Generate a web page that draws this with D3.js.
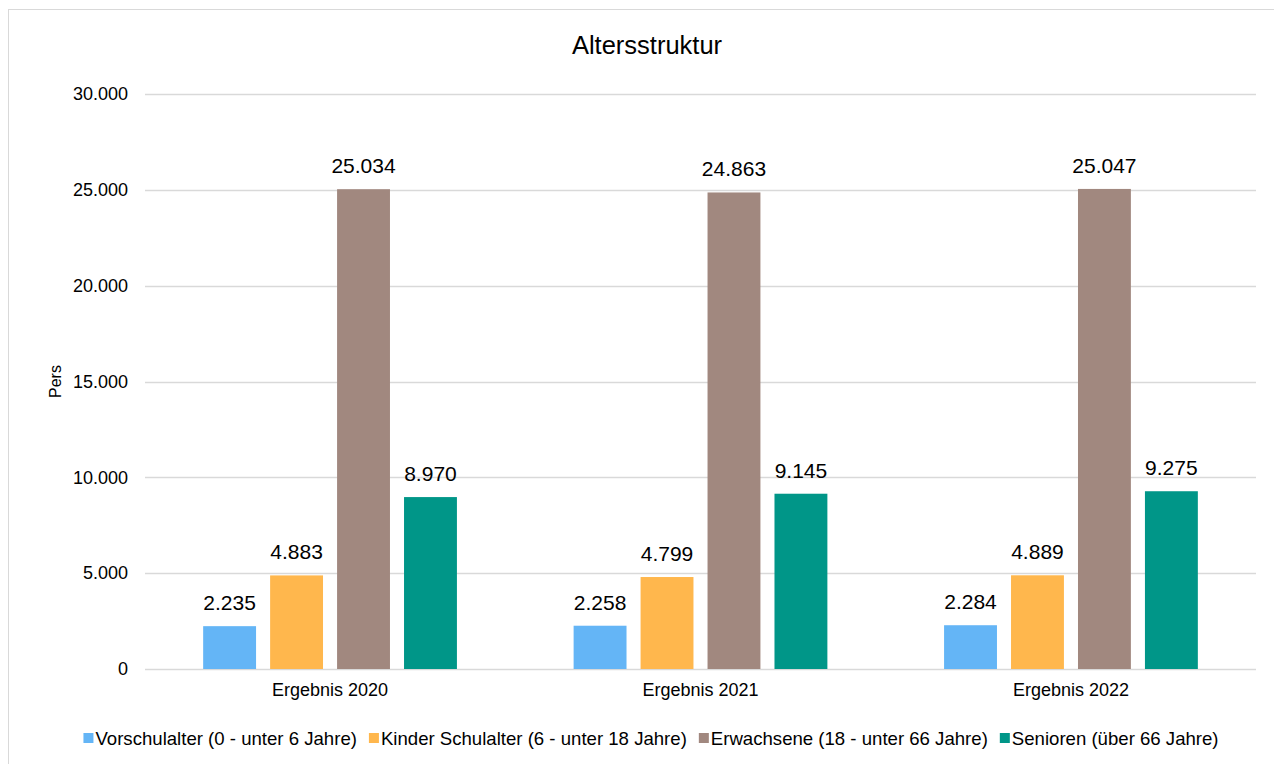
<!DOCTYPE html>
<html>
<head>
<meta charset="utf-8">
<script src="https://cdn.jsdelivr.net/npm/d3@7"></script>
<style>
  body { margin: 0; background: #fff; }
  svg { font-family: "Liberation Sans", Arial, sans-serif; }
</style>
</head>
<body>
<svg id="chart" width="1274" height="764"></svg>
<script>
const categories = ["Ergebnis 2020", "Ergebnis 2021", "Ergebnis 2022"];
const seriesNames = [
  "Vorschulalter (0 - unter 6 Jahre)",
  "Kinder Schulalter (6 - unter 18 Jahre)",
  "Erwachsene (18 - unter 66 Jahre)",
  "Senioren (über 66 Jahre)"
];
const vorschul = [2235, 2258, 2284];
const kinder = [4883, 4799, 4889];
const erwachsene = [25034, 24863, 25047];
const senioren = [8970, 9145, 9275];
const colors = ["#64b5f6", "#ffb74d", "#a1887f", "#009688"];
const yTicks = [0, 5000, 10000, 15000, 20000, 25000, 30000];

const allSeries = [vorschul, kinder, erwachsene, senioren];

const svg = d3.select("#chart");
const margin = { left: 145, right: 18, top: 94, bottom: 95 };
const W = 1274, H = 764;

// outer frame
svg.append("rect")
  .attr("x", 8.5).attr("y", 9.5)
  .attr("width", W).attr("height", H)
  .attr("fill", "none").attr("stroke", "#d9d9d9").attr("stroke-width", 1);

const x0 = d3.scaleBand()
  .domain(categories)
  .range([margin.left, W - margin.right])
  .paddingInner(0.315).paddingOuter(0.157);

const x1 = d3.scaleBand()
  .domain(d3.range(seriesNames.length))
  .range([0, x0.bandwidth()])
  .paddingInner(0.21);

const y = d3.scaleLinear()
  .domain([0, 30000])
  .range([H - margin.bottom, margin.top]);

const fmt = d3.formatLocale({ decimal: ",", thousands: ".", grouping: [3], currency: ["", "€"] }).format(",");

// gridlines
svg.append("g")
  .selectAll("line")
  .data(yTicks)
  .join("line")
  .attr("x1", margin.left).attr("x2", W - margin.right)
  .attr("y1", d => Math.round(y(d)) + 0.5).attr("y2", d => Math.round(y(d)) + 0.5)
  .attr("stroke", "#d9d9d9").attr("stroke-width", 1.5);

// y axis labels
const yAxis = d3.axisLeft(y).tickValues(yTicks).tickFormat(fmt).tickSize(0).tickPadding(17);
const yg = svg.append("g").attr("transform", `translate(${margin.left},0)`).call(yAxis);
yg.select(".domain").remove();
yg.selectAll("text").attr("font-size", 18).attr("fill", "#000").attr("font-family", "Liberation Sans, Arial, sans-serif");

// x axis labels
const xAxis = d3.axisBottom(x0).tickSize(0).tickPadding(14);
const xg = svg.append("g").attr("transform", `translate(0,${H - margin.bottom})`).call(xAxis);
xg.select(".domain").remove();
xg.selectAll("text").attr("font-size", 18).attr("fill", "#000").attr("font-family", "Liberation Sans, Arial, sans-serif");

// bars
const groups = svg.append("g")
  .selectAll("g")
  .data(categories)
  .join("g")
  .attr("transform", d => `translate(${x0(d)},0)`);

groups.selectAll("rect")
  .data((c, ci) => allSeries.map((s, si) => ({ si, v: s[ci] })))
  .join("rect")
  .attr("x", d => x1(d.si))
  .attr("width", x1.bandwidth())
  .attr("y", d => y(d.v))
  .attr("height", d => y(0) - y(d.v))
  .attr("fill", d => colors[d.si]);

groups.selectAll("text")
  .data((c, ci) => allSeries.map((s, si) => ({ si, v: s[ci] })))
  .join("text")
  .attr("x", d => x1(d.si) + x1.bandwidth() / 2)
  .attr("y", d => y(d.v) - 16)
  .attr("text-anchor", "middle")
  .attr("font-size", 21)
  .attr("fill", "#000")
  .text(d => fmt(d.v));

// title
svg.append("text")
  .attr("x", 647).attr("y", 54)
  .attr("text-anchor", "middle")
  .attr("font-size", 25.5)
  .attr("fill", "#000")
  .text("Altersstruktur");

// y axis title
svg.append("text")
  .attr("transform", `translate(61,${(y(0) + y(30000)) / 2}) rotate(-90)`)
  .attr("text-anchor", "middle")
  .attr("font-size", 16)
  .attr("fill", "#000")
  .text("Pers");

// legend
const legend = svg.append("g");
let lx = 0;
seriesNames.forEach((name, i) => {
  const item = legend.append("g").attr("transform", `translate(${lx},0)`);
  item.append("rect").attr("x", 0).attr("y", -12).attr("width", 10).attr("height", 10).attr("fill", colors[i]);
  const t = item.append("text").attr("x", 12).attr("y", 0).attr("font-size", 18.6).attr("fill", "#000").text(name);
  lx += 12 + t.node().getComputedTextLength() + 12;
});
const legendW = lx - 12;
legend.attr("transform", `translate(${651 - legendW / 2},745)`);
</script>
</body>
</html>
